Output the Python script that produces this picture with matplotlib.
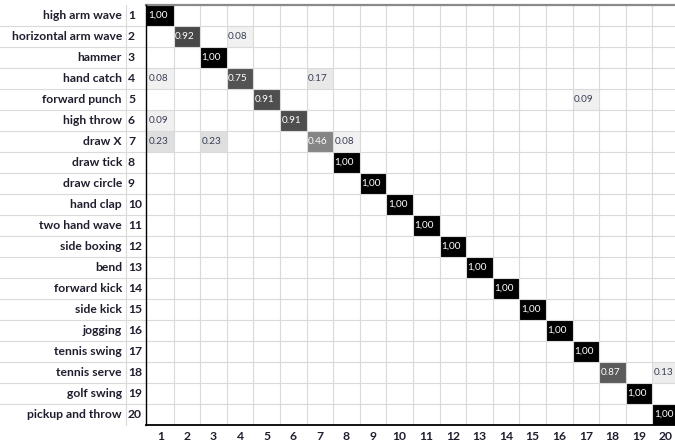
import numpy as np
import matplotlib
matplotlib.use("Agg")
import matplotlib.pyplot as plt
import matplotlib.transforms as mtransforms
from matplotlib.colors import LinearSegmentedColormap

actions = ["high arm wave", "horizontal arm wave", "hammer", "hand catch",
           "forward punch", "high throw", "draw X", "draw tick", "draw circle",
           "hand clap", "two hand wave", "side boxing", "bend", "forward kick",
           "side kick", "jogging", "tennis swing", "tennis serve", "golf swing",
           "pickup and throw"]

# non-zero cells of the confusion matrix (1-based row / column)
cell_rows = [1, 2, 2, 3, 4, 4, 4, 5, 5, 6, 6, 7, 7, 7, 7,
             8, 9, 10, 11, 12, 13, 14, 15, 16, 17, 18, 18, 19, 20]
cell_cols = [1, 2, 4, 3, 1, 4, 7, 5, 17, 1, 6, 1, 3, 7, 8,
             8, 9, 10, 11, 12, 13, 14, 15, 16, 17, 18, 20, 19, 20]
cell_vals = [1.00, 0.92, 0.08, 1.00, 0.08, 0.75, 0.17, 0.91, 0.09, 0.09, 0.91,
             0.23, 0.23, 0.46, 0.08,
             1.00, 1.00, 1.00, 1.00, 1.00, 1.00, 1.00, 1.00, 1.00, 1.00,
             0.87, 0.13, 1.00, 1.00]

n = len(actions)
conf = np.zeros((n, n))
for r, c, v in zip(cell_rows, cell_cols, cell_vals):
    conf[r - 1, c - 1] = v

W, H = 675, 445
fig = plt.figure(figsize=(W / 100, H / 100), dpi=100)
fig.patch.set_facecolor("white")

# matrix area in pixels
x0, cw = 147, 26.6
y_top, rh = 5, 21
ax = fig.add_axes([x0 / W, 1 - (y_top + n * rh) / H, n * cw / W, n * rh / H])

cmap = LinearSegmentedColormap.from_list(
    "xl", [(0.0, "#ffffff"), (0.05, "#f3f3f3"), (0.15, "#ececec"), (0.25, "#dcdcdc"),
           (0.46, "#858585"), (0.75, "#535353"), (0.88, "#5c5c5c"), (0.92, "#4a4a4a"),
           (0.95, "#303030"), (1.0, "#000000")])
ax.imshow(conf, cmap=cmap, vmin=0, vmax=1, aspect="auto", interpolation="nearest",
          extent=(-0.5, n - 0.5, n - 0.5, -0.5))
ax.set_xlim(-0.5, n - 0.5)
ax.set_ylim(n - 0.5, -0.5)
ax.set_xticks([])
ax.set_yticks([])
for s in ax.spines.values():
    s.set_visible(False)

grid_c = "#dadada"
for k in range(1, n):
    ax.axvline(k - 0.5, color=grid_c, lw=0.8, zorder=0.5)

# horizontal row lines spanning the label area too
bt = mtransforms.blended_transform_factory(fig.transFigure, ax.transData)
for k in range(1, n):
    ax.plot([0, 1], [k - 0.5, k - 0.5], transform=bt, color=grid_c, lw=0.8,
            clip_on=False, zorder=0.5)
ax.plot([126 / W, 126 / W], [-0.5, n - 0.5], transform=bt, color=grid_c, lw=0.8,
        clip_on=False)

# borders
ax.plot([146 / W, 1], [-0.5, -0.5], transform=bt, color="#8a8a8a", lw=1.6, clip_on=False)
ax.plot([146 / W, 1], [n - 0.5, n - 0.5], transform=bt, color="black", lw=1.3, clip_on=False)
ax.plot([146 / W, 146 / W], [-0.5, n - 0.5], transform=bt, color="black", lw=1.0, clip_on=False)

lab_c = "#1e1e2e"
for i, name in enumerate(actions):
    ax.text(122 / W, i, name, transform=bt, ha="right", va="center",
            fontsize=8.7, fontweight="bold", family="Lato", color=lab_c)
    ax.text(128 / W, i, str(i + 1), transform=bt, ha="left", va="center",
            fontsize=8.7, fontweight="bold", family="Lato", color=lab_c)

bt2 = mtransforms.blended_transform_factory(ax.transData, fig.transFigure)
for j in range(n):
    ax.text(j, 1 - 436 / H, str(j + 1), transform=bt2, ha="center", va="center",
            fontsize=8.7, fontweight="bold", family="Lato", color=lab_c, clip_on=False)

for r, c, v in zip(cell_rows, cell_cols, cell_vals):
    txt = "1,00" if v >= 1 else f"{v:.2f}"
    col = "white" if v > 0.4 else "#3a3f55"
    ax.text(c - 1 - 0.45, r - 1, txt, ha="left", va="center", fontsize=7.2,
            family="Lato", color=col, clip_on=False)

fig.savefig("out.png", dpi=100, facecolor="white")
